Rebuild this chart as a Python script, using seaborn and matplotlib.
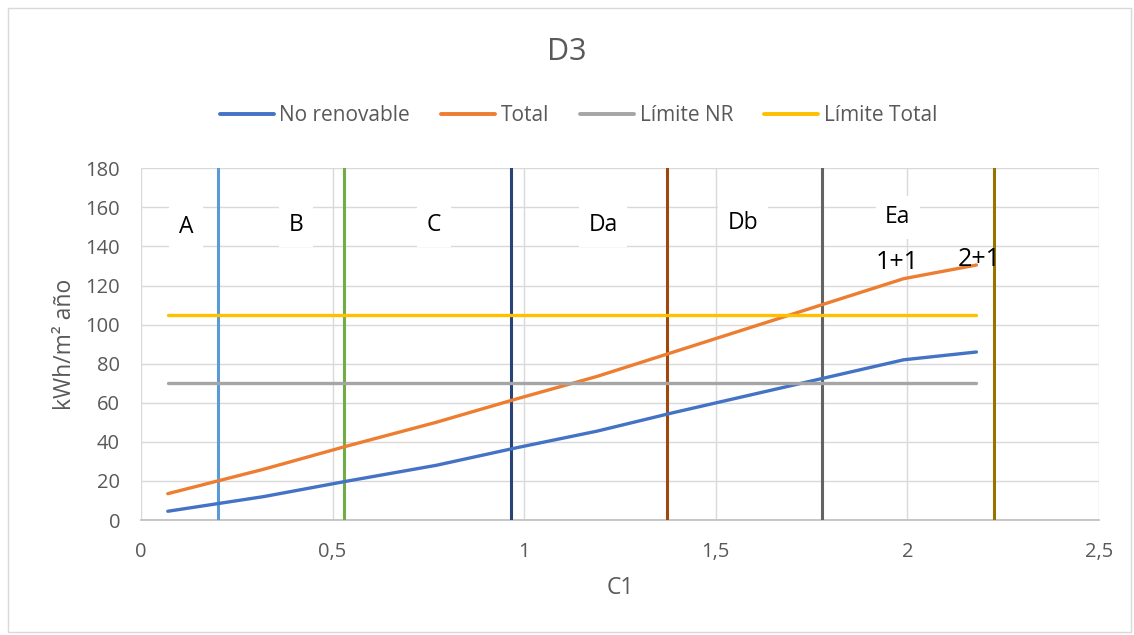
import numpy as np
import pandas as pd
import seaborn as sns
import matplotlib.pyplot as plt

# data
c1 = [0.07, 0.32, 0.54, 0.77, 0.98, 1.19, 1.39, 1.59, 1.79, 1.99, 2.18]
no_renovable = [4.5, 12, 20, 28, 37, 45.5, 55, 64, 73, 82, 86]
total = [13.5, 26, 38, 50, 62, 73.5, 86, 98.5, 111, 123.5, 130.5]
limite_nr = [70] * len(c1)
limite_total = [105] * len(c1)

zone_edges = [0.2, 0.53, 0.966, 1.373, 1.777, 2.226]
zone_colors = ["#5B9BD5", "#70AD47", "#264478", "#9E480E", "#636363", "#997300"]
zone_labels = ["A", "B", "C", "Da", "Db", "Ea"]
zone_label_x = [0.117, 0.404, 0.765, 1.206, 1.571, 1.975]
zone_label_y = [150, 151, 151, 151, 152, 155]
point_labels = ["1+1", "2+1"]
point_label_x = [1.973, 2.187]
point_label_y = [132, 133.5]

sns.set_theme(style="white")
plt.rcParams['font.family'] = ['Open Sans', 'DejaVu Sans']

df = pd.DataFrame({"C1": c1, "No renovable": no_renovable, "Total": total,
                   "Límite NR": limite_nr, "Límite Total": limite_total})
long = df.melt(id_vars="C1", var_name="serie", value_name="kWh")

palette = {"No renovable": "#4472C4", "Total": "#ED7D31",
           "Límite NR": "#A5A5A5", "Límite Total": "#FFC000"}

fig = plt.figure(figsize=(11.34, 6.35), dpi=100)
ax = fig.add_axes([0.1243, 0.181, 0.9692 - 0.1243, 0.735 - 0.181])

# zone boundaries
for xv, col in zip(zone_edges, zone_colors):
    ax.axvline(xv, color=col, lw=2.2, zorder=3)

sns.lineplot(data=long, x="C1", y="kWh", hue="serie", palette=palette,
             lw=2.4, ax=ax, zorder=4, legend=True, sort=False)

for lab, xv, yv in zip(zone_labels, zone_label_x, zone_label_y):
    ax.text(xv, yv, lab, ha="center", va="center", fontsize=16.5, color="black",
            bbox=dict(facecolor="white", edgecolor="none", pad=7), zorder=2)
for lab, xv, yv in zip(point_labels, point_label_x, point_label_y):
    ax.text(xv, yv, lab, ha="center", va="center", fontsize=18, color="black", zorder=5)

ax.set_xlim(0, 2.5)
ax.set_ylim(0, 180)
ax.set_xticks(np.arange(0, 2.51, 0.5))
ax.set_xticklabels(["0", "0,5", "1", "1,5", "2", "2,5"])
ax.set_yticks(np.arange(0, 181, 20))
ax.grid(True, color="#D9D9D9", lw=1, zorder=0)
ax.set_axisbelow(True)
for s in ["top", "right", "left"]:
    ax.spines[s].set_visible(False)
ax.spines["bottom"].set_color("#BFBFBF")
ax.tick_params(axis="x", length=0, pad=16, labelsize=14.5, labelcolor="#595959")
ax.tick_params(axis="y", length=0, pad=15, labelsize=14.5, labelcolor="#595959")
ax.set_xlabel("C1", fontsize=16.5, color="#595959", labelpad=10)
ax.set_ylabel("kWh/m² año", fontsize=16.5, color="#595959", labelpad=6)

fig.text(0.5, 0.918, "D3", ha="center", va="center", fontsize=22, color="#595959")

handles, labels = ax.get_legend_handles_labels()
ax.legend(handles, labels, loc="center", bbox_to_anchor=(0.51, 0.818),
          bbox_transform=fig.transFigure, ncol=4, frameon=False, fontsize=15,
          handlelength=2.6, columnspacing=1.5, handletextpad=0.25,
          labelcolor="#595959")
for line in ax.get_legend().get_lines():
    line.set_linewidth(2.8)

fig.patches.append(plt.Rectangle((0.007, 0.005), 0.99, 0.983, transform=fig.transFigure,
                                 fill=False, edgecolor="#D9D9D9", lw=1))

fig.savefig("out.png", dpi=100)
